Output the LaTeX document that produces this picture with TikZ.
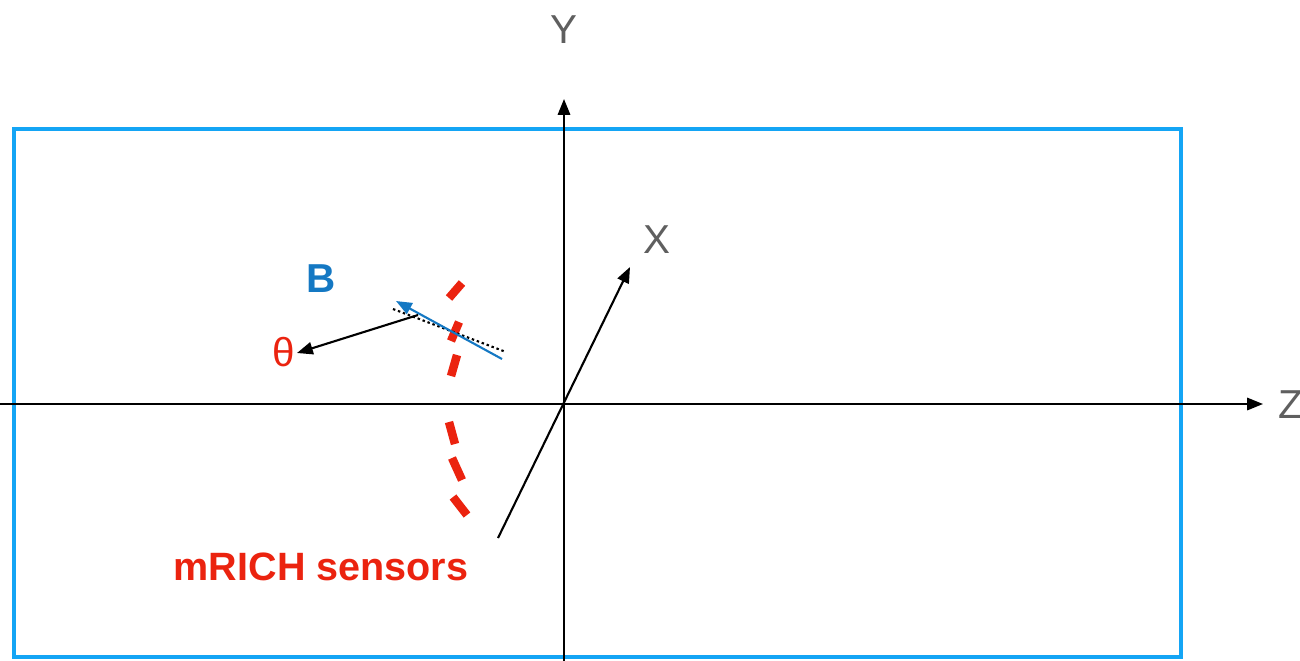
\documentclass[tikz,border=0pt]{standalone}
\usepackage{fontspec}
\setmainfont{Liberation Sans}
\usetikzlibrary{arrows.meta}
\definecolor{boxblue}{RGB}{20,165,245}
\definecolor{bblue}{RGB}{20,120,195}
\definecolor{sred}{RGB}{235,35,15}
\definecolor{lgrey}{RGB}{95,95,95}
\tikzset{
  axis/.style={line width=1.2pt,-{Triangle[length=9pt,width=7pt]}},
  axlabel/.style={text=lgrey,font=\fontsize{23}{26}\selectfont,inner sep=0pt},
  sensor/.style={sred,line width=4.8pt},
}
\begin{document}
\begin{tikzpicture}[x=0.02cm,y=-0.02cm]
\useasboundingbox (0,0) rectangle (1300,660);
% detector box
\draw[boxblue,line width=2.4pt] (14,129) rectangle (1181,657);
% axes
\coordinate (zs) at (0,404);
\coordinate (ze) at (1263,404);
\coordinate (ys) at (564,662);
\coordinate (ye) at (564,99);
\coordinate (xs) at (498,538);
\coordinate (xe) at (630,267);
\draw[axis] (zs) -- (ze);
\draw[axis] (ys) -- (ye);
\draw[axis] (xs) -- (xe);
\node[axlabel] (zl) at (1291,405) {Z};
\node[axlabel] (yl) at (564,30) {Y};
\node[axlabel] (xl) at (657,240) {X};
% sensors (dashed arc)
\draw[sensor] (462,283) -- (449,298);
\draw[sensor] (459,322) -- (451,341);
\draw[sensor] (457,355) -- (451,376);
\draw[sensor] (449,422) -- (455,444);
\draw[sensor] (452,458) -- (462,480);
\draw[sensor] (453,497) -- (467,515);
% track
\coordinate (bs) at (502,359);
\coordinate (be) at (396,301);
\coordinate (ds) at (393,309);
\coordinate (de) at (506,352);
\draw[black,line width=1.2pt,dash pattern=on 1.4pt off 1.6pt] (ds) -- (de);
\draw[bblue,line width=1.2pt,-{Triangle[length=9pt,width=7pt]}] (bs) -- (be);
\coordinate (ts) at (418,315);
\coordinate (te) at (297,353);
\draw[black,line width=1.2pt,-{Triangle[length=9pt,width=7pt]}] (ts) -- (te);
\node[text=sred,font=\fontsize{23}{26}\selectfont,inner sep=0pt] (th) at (284,352) {θ};
\node[text=bblue,font=\bfseries\fontsize{23}{26}\selectfont,inner sep=0pt] (B) at (321,279) {B};
\node[text=sred,font=\bfseries\fontsize{22.5}{26}\selectfont,inner sep=0pt] (lab) at (321,567) {mRICH sensors};
\end{tikzpicture}
\end{document}
